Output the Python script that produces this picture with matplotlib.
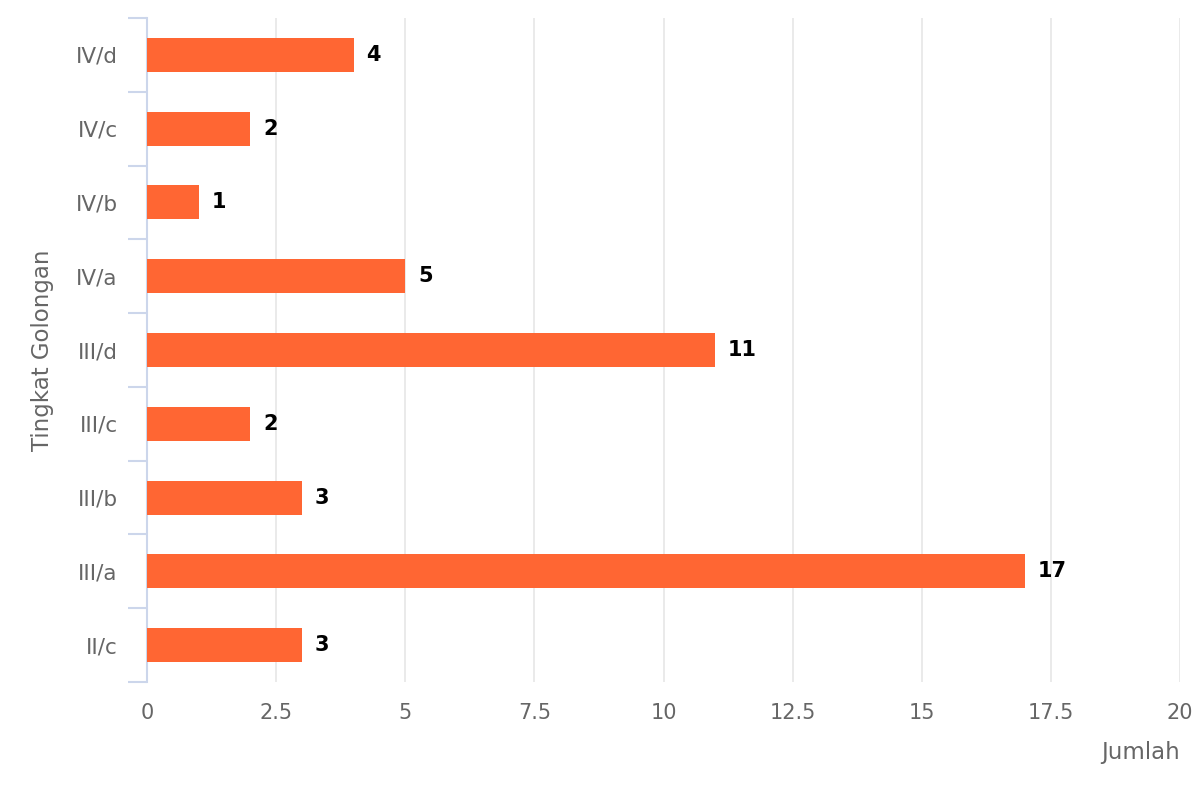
import matplotlib
matplotlib.use("Agg")
import matplotlib.pyplot as plt
import numpy as np

categories = ["II/c", "III/a", "III/b", "III/c", "III/d", "IV/a", "IV/b", "IV/c", "IV/d"]
values = [3, 17, 3, 2, 11, 5, 1, 2, 4]
xticks = [0, 2.5, 5, 7.5, 10, 12.5, 15, 17.5, 20]
xticklabels = ["0", "2.5", "5", "7.5", "10", "12.5", "15", "17.5", "20"]

plt.rcParams['font.family'] = ['DejaVu Sans']

fig = plt.figure(figsize=(12, 8), dpi=100)
ax = fig.add_axes([147/1200, 1-682/800, (1180-147)/1200, (682-18)/800])

y = np.arange(len(categories))
ax.barh(y, values, height=0.46, color="#FF6633", zorder=3)
for yi, v in zip(y, values):
    ax.text(v + 0.25, yi, str(v), va="center", ha="left", fontsize=15,
            fontweight="bold", color="#000000", zorder=4)

ax.set_xlim(0, 20)
ax.set_ylim(-0.5, len(categories) - 0.5)
ax.set_xticks(xticks)
ax.set_xticklabels(xticklabels)
ax.set_yticks(y)
ax.set_yticklabels(categories)
ax.set_yticks(np.arange(-0.5, len(categories)), minor=True)

ax.grid(axis="x", color="#e6e6e6", linewidth=1.2, zorder=0)
for s in ["top", "right", "bottom"]:
    ax.spines[s].set_visible(False)
ax.spines["left"].set_color("#ccd6eb")
ax.spines["left"].set_linewidth(1.5)

ax.tick_params(axis="x", length=0, pad=15, labelsize=15, labelcolor="#666666")
ax.tick_params(axis="y", which="major", length=0, pad=21, labelsize=15.5, labelcolor="#666666")
ax.tick_params(axis="y", which="minor", length=14, width=1.5, color="#ccd6eb")

fig.text(42/1200, 1-350/800, "Tingkat Golongan", rotation=90, ha="center", va="center",
         fontsize=16.5, color="#666666")
fig.text(1180/1200, 1-753/800, "Jumlah", ha="right", va="center", fontsize=16.5, color="#666666")

fig.savefig("out.png", dpi=100)
